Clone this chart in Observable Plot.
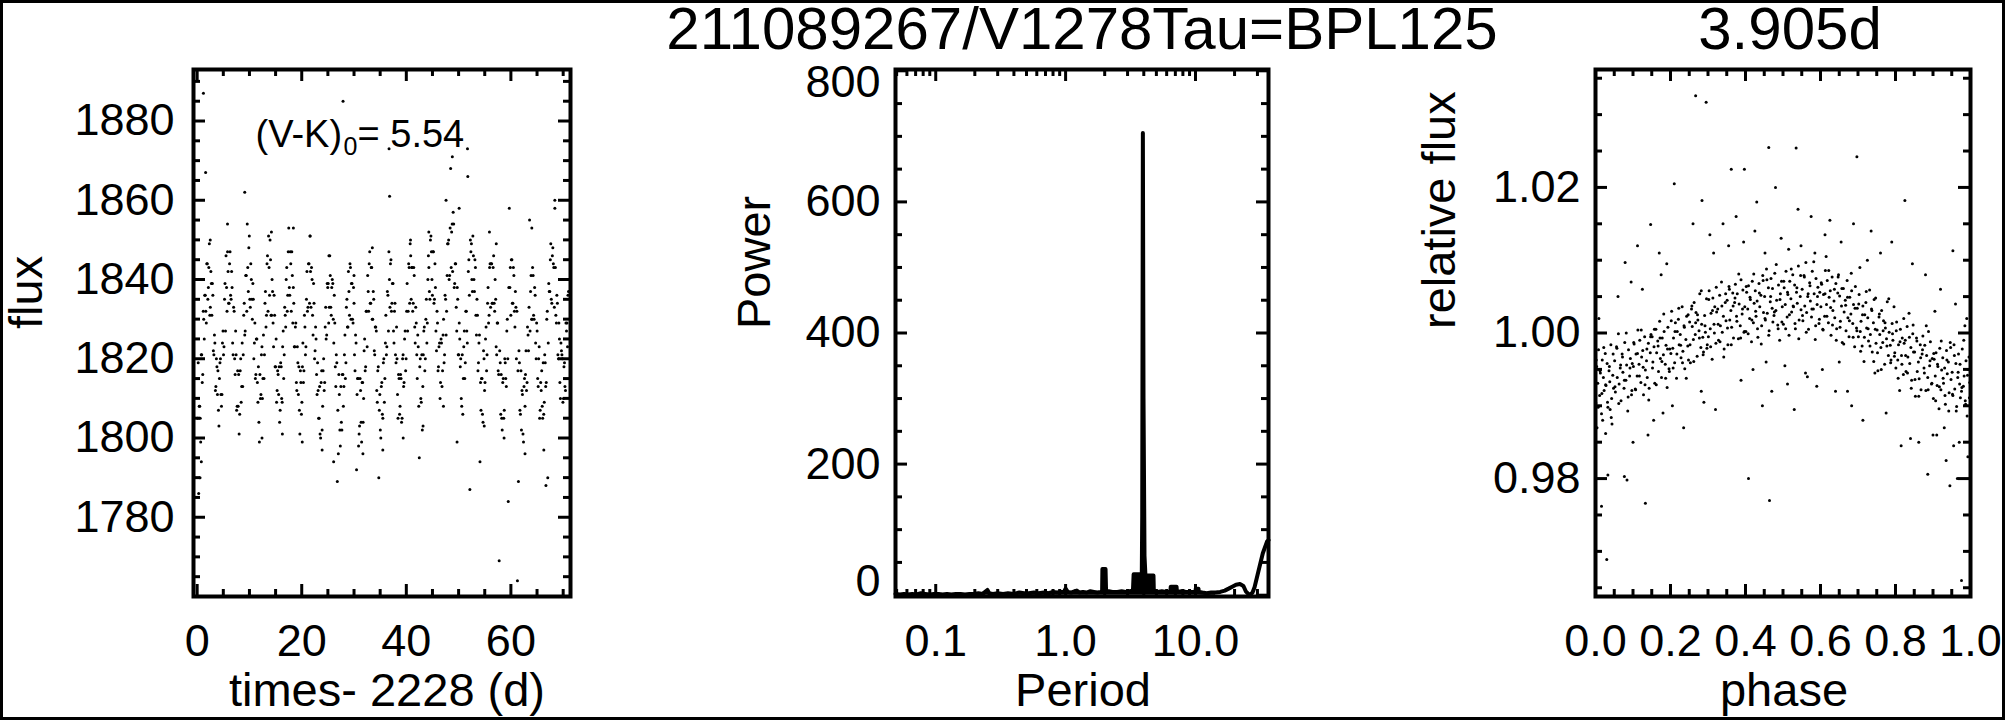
<!DOCTYPE html>
<html><head><meta charset="utf-8">
<script src="https://cdn.jsdelivr.net/npm/d3@7"></script>
<script src="https://cdn.jsdelivr.net/npm/@observablehq/plot@0.6"></script>
<style>
html,body{margin:0;padding:0;background:#fff;}
#wrap{position:relative;width:2005px;height:720px;overflow:hidden;background:#fff;font-family:"Liberation Sans",Arial,Helvetica,sans-serif;color:#000;}
.panel{position:absolute;top:0;height:720px;}
.title{position:absolute;top:7px;font-size:60px;line-height:44px;height:44px;white-space:nowrap;transform:translateX(-50%);z-index:5;}
#border{position:absolute;left:0;top:0;width:2005px;height:720px;box-sizing:border-box;border:3px solid #000;pointer-events:none;z-index:6;}
</style></head><body>
<div id="wrap">
 <div id="p1" class="panel" style="left:0;width:660px"></div>
 <div id="p2" class="panel" style="left:660px;width:670px"></div>
 <div id="p3" class="panel" style="left:1330px;width:675px"></div>
 <div id="t1" class="title" style="left:1082px"></div>
 <div id="t2" class="title" style="left:1790px"></div>
 <div id="border"></div>
</div>
<script>
// ---------- text ----------
const mainTitle = "211089267/V1278Tau=BPL125";
const periodTitle = "3.905d";
const annotA = "(V-K)", annotSub = "0", annotB = "= 5.54";
const lcXLabel = "times- 2228 (d)", lcYLabel = "flux";
const pgXLabel = "Period", pgYLabel = "Power";
const phXLabel = "phase", phYLabel = "relative flux";

// ---------- light curve (time, flux) ----------
const lcTime = [
0.10,0.29,0.49,0.68,0.87,1.07,1.26,1.45,1.65,1.84,2.04,2.23,2.42,2.62,2.81,3.00,3.20,3.39,3.58,3.78,
3.97,4.16,4.36,4.55,4.74,4.94,5.13,5.32,5.52,5.71,5.91,6.10,6.29,6.49,6.68,6.87,7.07,7.26,7.45,7.65,
7.84,8.03,8.23,8.42,8.61,8.81,9.00,9.19,9.39,9.58,9.78,9.97,10.16,10.36,10.55,10.74,10.94,11.13,11.32,11.52,
11.71,11.90,12.10,12.29,12.48,12.68,12.87,13.06,13.26,13.45,13.65,13.84,14.03,14.23,14.42,14.61,14.81,15.00,15.19,15.39,
15.58,15.77,15.97,16.16,16.35,16.55,16.74,16.93,17.13,17.32,17.52,17.71,17.90,18.10,18.29,18.48,18.68,18.87,19.06,19.26,
19.45,19.64,19.84,20.03,20.22,20.42,20.61,20.80,21.00,21.19,21.39,21.58,21.77,21.97,22.16,22.35,22.55,22.74,22.93,23.13,
23.32,23.51,23.71,23.90,24.09,24.29,24.48,24.67,24.87,25.06,25.26,25.45,25.64,25.84,26.03,26.22,26.42,26.61,26.80,27.00,
27.19,27.38,27.58,27.77,27.96,28.16,28.35,28.54,28.74,28.93,29.13,29.32,29.51,29.71,29.90,30.09,30.29,30.48,30.67,30.87,
31.06,31.25,31.45,31.64,31.83,32.03,32.22,32.41,32.61,32.80,33.00,33.19,33.38,33.58,33.77,33.96,34.16,34.35,34.54,34.74,
34.93,35.12,35.32,35.51,35.70,35.90,36.09,36.28,36.48,36.67,36.87,37.06,37.25,37.45,37.64,37.83,38.03,38.22,38.41,38.61,
38.80,38.99,39.19,39.38,39.57,39.77,39.96,40.15,40.35,40.54,40.74,40.93,41.12,41.32,41.51,41.70,41.90,42.09,42.28,42.48,
42.67,42.86,43.06,43.25,43.44,43.64,43.83,44.02,44.22,44.41,44.61,44.80,44.99,45.19,45.38,45.57,45.77,45.96,46.15,46.35,
46.54,46.73,46.93,47.12,47.31,47.51,47.70,47.89,48.09,48.28,48.48,48.67,48.86,49.06,49.25,49.44,49.64,49.83,50.02,50.22,
50.41,50.60,50.80,50.99,51.18,51.38,51.57,51.76,51.96,52.15,52.35,52.54,52.73,52.93,53.12,53.31,53.51,53.70,53.89,54.09,
54.28,54.47,54.67,54.86,55.05,55.25,55.44,55.63,55.83,56.02,56.22,56.41,56.60,56.80,56.99,57.18,57.38,57.57,57.76,57.96,
58.15,58.34,58.54,58.73,58.92,59.12,59.31,59.50,59.70,59.89,60.09,60.28,60.47,60.67,60.86,61.05,61.25,61.44,61.63,61.83,
62.02,62.21,62.41,62.60,62.79,62.99,63.18,63.37,63.57,63.76,63.96,64.15,64.34,64.54,64.73,64.92,65.12,65.31,65.50,65.70,
65.89,66.08,66.28,66.47,66.66,66.86,67.05,67.24,67.44,67.63,67.83,68.02,68.21,68.41,68.60,68.79,68.99,69.18,69.37,69.57,
69.76,69.95,70.15,70.34,70.53,70.73,70.92,
0.20,0.39,0.59,0.78,0.97,1.17,1.36,1.55,1.75,1.94,2.14,2.33,2.52,2.72,2.91,3.10,3.30,3.49,3.68,3.88,
4.07,4.26,4.46,4.65,4.84,5.04,5.23,5.42,5.62,5.81,6.01,6.20,6.39,6.59,6.78,6.97,7.17,7.36,7.55,7.75,
7.94,8.13,8.33,8.52,8.71,8.91,9.10,9.29,9.49,9.68,9.88,10.07,10.26,10.46,10.65,10.84,11.04,11.23,11.42,11.62,
11.81,12.00,12.20,12.39,12.58,12.78,12.97,13.16,13.36,13.55,13.75,13.94,14.13,14.33,14.52,14.71,14.91,15.10,15.29,15.49,
15.68,15.87,16.07,16.26,16.45,16.65,16.84,17.03,17.23,17.42,17.62,17.81,18.00,18.20,18.39,18.58,18.78,18.97,19.16,19.36,
19.55,19.74,19.94,20.13,20.32,20.52,20.71,20.90,21.10,21.29,21.49,21.68,21.87,22.07,22.26,22.45,22.65,22.84,23.03,23.23,
23.42,23.61,23.81,24.00,24.19,24.39,24.58,24.77,24.97,25.16,25.36,25.55,25.74,25.94,26.13,26.32,26.52,26.71,26.90,27.10,
27.29,27.48,27.68,27.87,28.06,28.26,28.45,28.64,28.84,29.03,29.23,29.42,29.61,29.81,30.00,30.19,30.39,30.58,30.77,30.97,
31.16,31.35,31.55,31.74,31.93,32.13,32.32,32.51,32.71,32.90,33.10,33.29,33.48,33.68,33.87,34.06,34.26,34.45,34.64,34.84,
35.03,35.22,35.42,35.61,35.80,36.00,36.19,36.38,36.58,36.77,36.97,37.16,37.35,37.55,37.74,37.93,38.13,38.32,38.51,38.71,
38.90,39.09,39.29,39.48,39.67,39.87,40.06,40.25,40.45,40.64,40.84,41.03,41.22,41.42,41.61,41.80,42.00,42.19,42.38,42.58,
42.77,42.96,43.16,43.35,43.54,43.74,43.93,44.12,44.32,44.51,44.71,44.90,45.09,45.29,45.48,45.67,45.87,46.06,46.25,46.45,
46.64,46.83,47.03,47.22,47.41,47.61,47.80,47.99,48.19,48.38,48.58,48.77,48.96,49.16,49.35,49.54,49.74,49.93,50.12,50.32,
50.51,50.70,50.90,51.09,51.28,51.48,51.67,51.86,52.06,52.25,52.45,52.64,52.83,53.03,53.22,53.41,53.61,53.80,53.99,54.19,
54.38,54.57,54.77,54.96,55.15,55.35,55.54,55.73,55.93,56.12,56.32,56.51,56.70,56.90,57.09,57.28,57.48,57.67,57.86,58.06,
58.25,58.44,58.64,58.83,59.02,59.22,59.41,59.60,59.80,59.99,60.19,60.38,60.57,60.77,60.96,61.15,61.35,61.54,61.73,61.93,
62.12,62.31,62.51,62.70,62.89,63.09,63.28,63.47,63.67,63.86,64.06,64.25,64.44,64.64,64.83,65.02,65.22,65.41,65.60,65.80,
65.99,66.18,66.38,66.57,66.76,66.96,67.15,67.34,67.54,67.73,67.93,68.12,68.31,68.51,68.70,68.89,69.09,69.28,69.47,69.67,
69.86,70.05,70.25,70.44,70.63,70.83,71.02,
1.20,1.62,0.55,0.80,27.90,36.70,36.80,51.70,48.80,49.70,9.10,68.40,47.60,50.10,26.10,44.30,18.40,14.20,5.80,2.50,21.60,
40.80,55.90,64.00,33.50,30.00,25.20,57.20,66.70,12.40,16.30,20.10,23.90,31.70,35.50,39.40,43.20,47.10,54.90,58.70,62.70,66.30];
const lcFlux = [
1805,1786,1808,1799,1821,1816,1830,1836,1832,1844,1835,1843,1831,1842,1831,1836,1821,1824,1813,1818,
1817,1803,1819,1811,1811,1827,1823,1839,1846,1832,1842,1834,1847,1835,1838,1821,1832,1816,1821,1808,
1808,1801,1817,1809,1824,1821,1834,1827,1841,1854,1837,1851,1833,1840,1830,1835,1824,1815,1825,1814,
1818,1799,1810,1821,1810,1826,1821,1837,1831,1846,1851,1836,1845,1831,1837,1823,1831,1818,1809,1817,
1811,1804,1819,1810,1823,1815,1833,1828,1843,1836,1853,1836,1844,1847,1829,1834,1823,1829,1812,1819,
1818,1801,1814,1809,1824,1817,1828,1823,1842,1833,1844,1851,1833,1840,1826,1834,1822,1825,1811,1812,
1805,1801,1814,1802,1817,1812,1828,1825,1839,1839,1833,1841,1831,1840,1830,1836,1818,1821,1789,1796,
1811,1798,1804,1816,1808,1821,1815,1833,1828,1842,1831,1843,1839,1830,1838,1821,1826,1792,1815,1798,
1803,1812,1799,1814,1810,1825,1818,1832,1841,1832,1847,1834,1843,1830,1835,1821,1828,1812,1817,1790,
1811,1800,1814,1805,1820,1815,1831,1823,1836,1847,1833,1845,1834,1839,1824,1834,1819,1820,1805,1815,
1808,1815,1805,1821,1814,1827,1820,1839,1832,1843,1849,1835,1843,1834,1841,1824,1829,1815,1823,1795,
1820,1809,1802,1821,1828,1820,1835,1829,1846,1837,1850,1847,1836,1847,1835,1838,1822,1829,1818,1824,
1814,1824,1817,1830,1821,1835,1832,1849,1850,1841,1868,1852,1842,1854,1839,1844,1827,1835,1821,1825,
1820,1808,1806,1823,1815,1832,1827,1866,1845,1787,1847,1840,1851,1840,1845,1831,1835,1817,1824,1794,
1807,1815,1804,1820,1814,1828,1821,1838,1831,1844,1844,1834,1843,1834,1840,1823,1829,1817,1769,1819,
1816,1802,1815,1807,1819,1813,1830,1784,1858,1843,1845,1834,1843,1832,1837,1820,1764,1789,1819,1806,
1802,1811,1799,1815,1816,1812,1828,1822,1855,1837,1830,1843,1831,1838,1824,1829,1815,1820,1805,1814,
1817,1805,1806,1821,1813,1830,1790,1839,1837,1849,1834,1848,1843,1858,1831,1836,1821,1829,1814,1824,
1821,1809,1818,1813,1829,1829,1836,
1819,1808,1805,1821,1814,1832,1825,1836,1829,1844,1838,1849,1833,1839,1839,1822,1826,1812,1820,1811,
1807,1815,1820,1808,1824,1821,1835,1827,1838,1847,1834,1844,1836,1842,1824,1833,1820,1827,1807,1817,
1816,1806,1820,1813,1813,1831,1826,1841,1832,1843,1848,1835,1844,1835,1839,1820,1829,1816,1825,1809,
1804,1816,1811,1823,1815,1815,1834,1828,1844,1832,1843,1850,1831,1840,1829,1836,1818,1825,1812,1816,
1818,1807,1818,1809,1827,1821,1831,1840,1832,1847,1838,1847,1832,1841,1838,1823,1828,1814,1823,1811,
1807,1817,1806,1818,1814,1831,1821,1835,1832,1844,1834,1842,1843,1831,1839,1820,1828,1816,1819,1805,
1813,1800,1817,1808,1820,1814,1833,1826,1838,1829,1846,1833,1838,1839,1824,1829,1813,1819,1807,1816,
1802,1813,1802,1816,1813,1826,1819,1835,1828,1837,1844,1830,1839,1829,1834,1817,1824,1811,1815,1801,
1815,1804,1814,1804,1822,1817,1832,1823,1837,1844,1834,1843,1830,1837,1822,1828,1827,1809,1818,1807,
1802,1813,1806,1819,1809,1824,1821,1837,1827,1840,1844,1832,1839,1827,1832,1821,1828,1811,1816,1806,
1816,1804,1820,1813,1825,1817,1832,1827,1844,1834,1846,1843,1832,1843,1828,1833,1821,1826,1808,1818,
1810,1821,1813,1827,1817,1830,1824,1840,1843,1835,1851,1840,1847,1834,1844,1827,1832,1817,1823,1810,
1825,1813,1826,1819,1836,1826,1841,1849,1840,1853,1843,1854,1857,1838,1844,1833,1838,1821,1829,1818,
1810,1821,1815,1827,1819,1832,1824,1842,1836,1850,1849,1837,1846,1837,1843,1826,1831,1819,1826,1814,
1815,1806,1822,1812,1825,1817,1834,1829,1843,1833,1844,1834,1846,1832,1835,1821,1829,1816,1822,1806,
1805,1814,1805,1820,1815,1827,1820,1838,1838,1831,1845,1834,1841,1828,1833,1832,1817,1822,1807,1817,
1812,1801,1813,1808,1822,1814,1826,1833,1827,1841,1830,1841,1830,1836,1820,1827,1813,1823,1807,1812,
1808,1819,1809,1819,1814,1832,1824,1837,1845,1835,1846,1844,1833,1843,1829,1834,1820,1825,1810,1822,
1820,1810,1819,1812,1827,1823,1837,
1887,1867,1790,1794,1885,1873,1861,1873,1871,1799,1862,1860,1860,1858,1794,1852,1853,1852,1854,1850,1851,
1850,1852,1853,1848,1841,1846,1849,1788,1800,1801,1799,1797,1796,1797,1800,1803,1808,1803,1800,1796,1797];
const lcXTicks = [0, 20, 40, 60];
const lcXMinor = [5, 10, 15, 25, 30, 35, 45, 50, 55, 65, 70];
const lcYTicks = [1780, 1800, 1820, 1840, 1860, 1880];
const lcYMinor = [1765,1770,1775,1785,1790,1795,1805,1810,1815,1825,1830,1835,1845,1850,1855,1865,1870,1875,1885,1890];

// ---------- periodogram (period, power) ----------
const pgPeriod = [0.049,0.053,0.057,0.061,0.066,0.071,0.077,0.083,0.09,0.097,
0.105,0.113,0.122,0.132,0.143,0.155,0.168,0.182,0.197,0.213,
0.23,0.243,0.25,0.258,0.275,0.3,0.33,0.36,0.4,0.44,
0.48,0.52,0.57,0.62,0.68,0.74,0.8,0.86,0.92,0.97,
1.0,1.04,1.1,1.17,1.22,1.28,1.36,1.45,1.55,1.65,
1.76,1.86,1.91,1.92,2.03,2.05,2.15,2.3,2.5,2.7,
2.9,3.1,3.3,3.34,3.86,3.89,3.935,3.98,4.05,4.12,
4.75,4.78,5.1,5.5,6.0,6.4,6.45,7.15,7.2,7.8,
8.5,9.3,10.0,10.05,10.55,10.6,11.3,12.2,13.2,14.3,
15.5,16.8,18.0,19.2,20.5,22.0,23.4,24.4,25.5,26.5,
27.5,28.5,30.5,33.0,35.6,36.5];
const pgPower = [2,1,2,1,2,1,3,2,1,2,
2,1,2,1,2,2,1,2,2,3,
2,6,8,3,2,3,2,3,2,4,
3,3,4,3,4,3,5,4,5,5,
10,5,4,6,7,4,5,4,6,5,
4,5,5,40,40,5,6,5,5,6,
5,6,7,32,32,120,705,300,60,30,
30,6,5,6,5,5,13,13,5,6,
5,5,5,10,10,5,4,3,4,4,
5,7,10,13,16,17,14,6,2,1,
4,12,36,64,82,84];
const pgXTicks = [0.1, 1, 10];
const pgXTickText = ["0.1", "1.0", "10.0"];
const pgXMinor = [0.05,0.06,0.07,0.08,0.09,0.2,0.3,0.4,0.5,0.6,0.7,0.8,0.9,2,3,4,5,6,7,8,9,20,30];
const pgYTicks = [0, 200, 400, 600, 800];
const pgYMinor = [50,100,150,250,300,350,450,500,550,650,700,750];

// ---------- phased light curve (phase, relative flux) ----------
const phPhase = [
0.001,0.003,0.006,0.008,0.011,0.013,0.016,0.018,0.021,0.023,0.026,0.028,0.031,0.033,0.036,0.038,0.041,0.043,0.046,0.048,
0.051,0.053,0.056,0.058,0.061,0.063,0.066,0.068,0.071,0.073,0.076,0.078,0.081,0.083,0.086,0.088,0.091,0.093,0.096,0.098,
0.101,0.103,0.106,0.108,0.111,0.113,0.116,0.118,0.121,0.123,0.126,0.128,0.131,0.133,0.136,0.138,0.141,0.143,0.146,0.148,
0.151,0.153,0.156,0.158,0.161,0.163,0.166,0.168,0.171,0.173,0.176,0.178,0.181,0.183,0.186,0.188,0.191,0.193,0.196,0.198,
0.201,0.203,0.206,0.208,0.211,0.213,0.216,0.218,0.221,0.223,0.226,0.228,0.231,0.233,0.236,0.238,0.241,0.243,0.246,0.248,
0.251,0.253,0.256,0.258,0.261,0.263,0.266,0.268,0.271,0.273,0.276,0.278,0.281,0.283,0.286,0.288,0.291,0.293,0.296,0.298,
0.301,0.303,0.306,0.308,0.311,0.313,0.316,0.318,0.321,0.323,0.326,0.328,0.331,0.333,0.336,0.338,0.341,0.343,0.346,0.348,
0.351,0.353,0.356,0.358,0.361,0.363,0.366,0.368,0.371,0.373,0.376,0.378,0.381,0.383,0.386,0.388,0.391,0.393,0.396,0.398,
0.401,0.403,0.406,0.408,0.411,0.413,0.416,0.418,0.421,0.423,0.426,0.428,0.431,0.433,0.436,0.438,0.441,0.443,0.446,0.448,
0.451,0.453,0.456,0.458,0.461,0.463,0.466,0.468,0.471,0.473,0.476,0.478,0.481,0.483,0.486,0.488,0.491,0.493,0.496,0.498,
0.501,0.503,0.506,0.508,0.511,0.513,0.516,0.518,0.521,0.523,0.526,0.528,0.531,0.533,0.536,0.538,0.541,0.543,0.546,0.548,
0.551,0.553,0.556,0.558,0.561,0.563,0.566,0.568,0.571,0.573,0.576,0.578,0.581,0.583,0.586,0.588,0.591,0.593,0.596,0.598,
0.601,0.603,0.606,0.608,0.611,0.613,0.616,0.618,0.621,0.623,0.626,0.628,0.631,0.633,0.636,0.638,0.641,0.643,0.646,0.648,
0.651,0.653,0.656,0.658,0.661,0.663,0.666,0.668,0.671,0.673,0.676,0.678,0.681,0.683,0.686,0.688,0.691,0.693,0.696,0.698,
0.701,0.703,0.706,0.708,0.711,0.713,0.716,0.718,0.721,0.723,0.726,0.728,0.731,0.733,0.736,0.738,0.741,0.743,0.746,0.748,
0.751,0.753,0.756,0.758,0.761,0.763,0.766,0.768,0.771,0.773,0.776,0.778,0.781,0.783,0.786,0.788,0.791,0.793,0.796,0.798,
0.801,0.803,0.806,0.808,0.811,0.813,0.816,0.818,0.821,0.823,0.826,0.828,0.831,0.833,0.836,0.838,0.841,0.843,0.846,0.848,
0.851,0.853,0.856,0.858,0.861,0.863,0.866,0.868,0.871,0.873,0.876,0.878,0.881,0.883,0.886,0.888,0.891,0.893,0.896,0.898,
0.901,0.903,0.906,0.908,0.911,0.913,0.916,0.918,0.921,0.923,0.926,0.928,0.931,0.933,0.936,0.938,0.941,0.943,0.946,0.948,
0.951,0.953,0.956,0.958,0.961,0.963,0.966,0.968,0.971,0.973,0.976,0.978,0.981,0.983,0.986,0.988,0.991,0.993,0.996,0.998,
0.002,0.007,0.012,0.017,0.022,0.027,0.032,0.037,0.042,0.047,
0.052,0.057,0.062,0.067,0.072,0.077,0.082,0.087,0.092,0.097,
0.102,0.107,0.112,0.117,0.122,0.127,0.132,0.137,0.142,0.147,
0.152,0.157,0.162,0.167,0.172,0.177,0.182,0.187,0.192,0.197,
0.202,0.207,0.212,0.217,0.222,0.227,0.232,0.237,0.242,0.247,
0.252,0.257,0.262,0.267,0.272,0.277,0.282,0.287,0.292,0.297,
0.302,0.307,0.312,0.317,0.322,0.327,0.332,0.337,0.342,0.347,
0.352,0.357,0.362,0.367,0.372,0.377,0.382,0.387,0.392,0.397,
0.402,0.407,0.412,0.417,0.422,0.427,0.432,0.437,0.442,0.447,
0.452,0.457,0.462,0.467,0.472,0.477,0.482,0.487,0.492,0.497,
0.502,0.507,0.512,0.517,0.522,0.527,0.532,0.537,0.542,0.547,
0.552,0.557,0.562,0.567,0.572,0.577,0.582,0.587,0.592,0.597,
0.602,0.607,0.612,0.617,0.622,0.627,0.632,0.637,0.642,0.647,
0.652,0.657,0.662,0.667,0.672,0.677,0.682,0.687,0.692,0.697,
0.702,0.707,0.712,0.717,0.722,0.727,0.732,0.737,0.742,0.747,
0.752,0.757,0.762,0.767,0.772,0.777,0.782,0.787,0.792,0.797,
0.802,0.807,0.812,0.817,0.822,0.827,0.832,0.837,0.842,0.847,
0.852,0.857,0.862,0.867,0.872,0.877,0.882,0.887,0.892,0.897,
0.902,0.907,0.912,0.917,0.922,0.927,0.932,0.937,0.942,0.947,
0.952,0.957,0.962,0.967,0.972,0.977,0.982,0.987,0.992,0.997,
0.030,0.016,0.033,0.009,0.077,0.084,0.079,0.133,0.147,0.112,0.155,0.170,0.210,0.235,0.267,0.295,0.282,0.260,0.289,0.284,
0.305,0.320,0.340,0.362,0.375,0.388,0.397,0.408,0.445,0.430,0.462,0.464,0.480,0.470,0.535,0.512,0.530,0.540,0.590,0.575,
0.560,0.612,0.640,0.625,0.697,0.688,0.683,0.672,0.713,0.735,0.745,0.760,0.775,0.790,0.825,0.815,0.840,0.845,0.862,0.880,
0.886,0.935,0.945,0.953,0.976,0.985,0.993,0.965,
0.420,0.455,0.505,0.565,0.605,0.650,0.315,0.355,0.395,0.425,0.452,0.495,0.515,0.548,0.585,0.615,0.655,0.705,0.725,
0.060,0.095,0.125,0.175,0.190,0.100,0.140,0.180,0.205,0.905,0.920,0.960,0.990,0.910,0.930,0.970,0.955,0.900,
0.004,0.019,0.027,0.044,0.039];
const phRel = [
0.9904,0.9954,0.9931,0.9977,0.9914,0.9945,0.9889,0.9963,0.9939,0.9921,0.9972,0.9928,0.9958,0.9898,0.9948,0.9933,0.9984,0.9910,0.9942,0.9924,
0.9962,0.9919,0.9981,0.9939,0.9999,0.9930,0.9952,0.9907,0.9971,0.9946,0.9924,0.9987,0.9935,0.9956,0.9893,0.9977,0.9941,0.9965,0.9915,0.9958,
0.9954,0.9985,0.9923,0.9971,0.9941,1.0004,0.9957,0.9990,0.9932,0.9967,0.9976,0.9915,0.9995,0.9949,0.9962,0.9939,0.9986,0.9924,0.9973,0.9998,
0.9995,0.9960,0.9981,0.9931,1.0005,0.9973,0.9989,0.9947,1.0016,0.9965,0.9939,0.9993,0.9970,1.0002,0.9957,0.9983,0.9925,1.0008,0.9951,0.9978,
0.9972,1.0030,0.9979,0.9993,0.9959,1.0014,0.9938,1.0002,1.0019,0.9984,0.9998,0.9966,1.0036,0.9975,1.0010,0.9951,0.9991,1.0023,0.9982,0.9963,
1.0015,0.9959,1.0033,1.0009,0.9991,1.0042,0.9998,1.0028,0.9968,1.0018,1.0003,1.0054,0.9980,1.0012,0.9994,0.9974,1.0024,1.0001,1.0047,0.9984,
0.9995,1.0058,1.0006,1.0027,0.9964,1.0048,1.0012,1.0036,0.9986,1.0029,1.0033,0.9990,1.0052,1.0010,1.0070,1.0001,1.0023,0.9978,1.0042,1.0017,
1.0045,0.9984,1.0064,1.0018,1.0031,1.0008,1.0055,0.9993,1.0042,1.0067,1.0023,1.0054,0.9992,1.0040,1.0010,1.0073,1.0026,1.0059,1.0001,1.0036,
1.0002,1.0056,1.0033,1.0065,1.0020,1.0046,0.9988,1.0071,1.0014,1.0041,1.0058,1.0023,1.0044,0.9994,1.0068,1.0036,1.0052,1.0010,1.0079,1.0028,
1.0050,1.0018,1.0088,1.0027,1.0062,1.0003,1.0043,1.0075,1.0034,1.0015,1.0024,1.0082,1.0031,1.0045,1.0011,1.0066,0.9990,1.0054,1.0071,1.0036,
1.0012,1.0062,1.0039,1.0085,1.0022,1.0053,0.9997,1.0071,1.0047,1.0029,1.0080,1.0036,1.0066,1.0006,1.0056,1.0041,1.0092,1.0018,1.0050,1.0032,
1.0060,1.0017,1.0079,1.0037,1.0097,1.0028,1.0050,1.0005,1.0069,1.0044,1.0022,1.0085,1.0033,1.0054,0.9991,1.0075,1.0039,1.0063,1.0013,1.0056,
1.0036,1.0067,1.0005,1.0053,1.0023,1.0086,1.0039,1.0072,1.0014,1.0049,1.0058,0.9997,1.0077,1.0031,1.0044,1.0021,1.0068,1.0006,1.0055,1.0080,
1.0051,1.0016,1.0037,0.9987,1.0061,1.0029,1.0045,1.0003,1.0072,1.0021,0.9995,1.0049,1.0026,1.0058,1.0013,1.0039,0.9981,1.0064,1.0007,1.0034,
0.9995,1.0053,1.0002,1.0016,0.9982,1.0037,0.9961,1.0025,1.0042,1.0007,1.0021,0.9989,1.0059,0.9998,1.0033,0.9974,1.0014,1.0046,1.0005,0.9986,
1.0004,0.9948,1.0022,0.9998,0.9980,1.0031,0.9987,1.0017,0.9957,1.0007,0.9992,1.0043,0.9969,1.0001,0.9983,0.9963,1.0013,0.9990,1.0036,0.9973,
0.9952,1.0015,0.9963,0.9984,0.9921,1.0005,0.9969,0.9993,0.9943,0.9986,0.9990,0.9947,1.0009,0.9967,1.0027,0.9958,0.9980,0.9935,0.9999,0.9974,
0.9974,0.9913,0.9993,0.9947,0.9960,0.9937,0.9984,0.9922,0.9971,0.9996,0.9952,0.9983,0.9921,0.9969,0.9939,1.0002,0.9955,0.9988,0.9930,0.9965,
0.9910,0.9964,0.9941,0.9973,0.9928,0.9954,0.9896,0.9979,0.9922,0.9949,0.9966,0.9931,0.9952,0.9902,0.9976,0.9944,0.9960,0.9918,0.9987,0.9936,
0.9946,0.9914,0.9984,0.9923,0.9958,0.9899,0.9939,0.9971,0.9930,0.9911,0.9920,0.9978,0.9927,0.9941,0.9907,0.9962,0.9886,0.9950,0.9967,0.9932,
0.9963,0.9898,0.9948,0.9917,0.9980,0.9929,0.9905,0.9954,0.9884,0.9971,
0.9926,0.9979,0.9903,0.9956,0.9967,0.9935,1.0000,0.9912,0.9952,0.9921,
0.9987,0.9922,0.9972,0.9941,1.0004,0.9953,0.9929,0.9978,0.9908,0.9995,
0.9952,1.0005,0.9929,0.9982,0.9993,0.9961,1.0026,0.9938,0.9978,0.9947,
1.0017,0.9952,1.0002,0.9971,1.0034,0.9983,0.9959,1.0008,0.9938,1.0025,
0.9984,1.0037,0.9961,1.0014,1.0025,0.9993,1.0058,0.9970,1.0010,0.9979,
1.0046,0.9981,1.0031,1.0000,1.0063,1.0012,0.9988,1.0037,0.9967,1.0054,
1.0007,1.0060,0.9984,1.0037,1.0048,1.0016,1.0081,0.9993,1.0033,1.0002,
1.0064,0.9999,1.0049,1.0018,1.0081,1.0030,1.0006,1.0055,0.9985,1.0072,
1.0020,1.0073,0.9997,1.0050,1.0061,1.0029,1.0094,1.0006,1.0046,1.0015,
1.0071,1.0006,1.0056,1.0025,1.0088,1.0037,1.0013,1.0062,0.9992,1.0079,
1.0024,1.0077,1.0001,1.0054,1.0065,1.0033,1.0098,1.0010,1.0050,1.0019,
1.0069,1.0004,1.0054,1.0023,1.0086,1.0035,1.0011,1.0060,0.9990,1.0077,
1.0008,1.0061,0.9985,1.0038,1.0049,1.0017,1.0082,0.9994,1.0034,1.0003,
1.0040,0.9975,1.0025,0.9994,1.0057,1.0006,0.9982,1.0031,0.9961,1.0048,
0.9973,1.0026,0.9950,1.0003,1.0014,0.9982,1.0047,0.9959,0.9999,0.9968,
1.0003,0.9938,0.9988,0.9957,1.0020,0.9969,0.9945,0.9994,0.9924,1.0011,
0.9936,0.9989,0.9913,0.9966,0.9977,0.9945,1.0010,0.9922,0.9962,0.9931,
0.9972,0.9907,0.9957,0.9926,0.9989,0.9938,0.9914,0.9963,0.9893,0.9980,
0.9916,0.9969,0.9893,0.9946,0.9957,0.9925,0.9990,0.9902,0.9942,0.9911,
0.9689,0.9762,0.9805,1.0020,0.9803,0.9798,1.0097,0.9766,1.0149,1.0120,0.9880,1.0110,1.0205,0.9870,1.0326,1.0317,0.9920,1.0150,0.9905,1.0182,
1.0135,0.9895,1.0150,1.0225,1.0160,0.9935,1.0225,0.9800,0.9900,1.0180,1.0255,0.9770,1.0200,0.9920,1.0254,0.9930,0.9895,1.0170,0.9927,1.0160,
0.9945,1.0135,0.9920,1.0155,1.0242,1.0150,0.9900,0.9920,0.9880,1.0140,0.9945,1.0110,0.9890,1.0125,1.0182,0.9845,0.9855,1.0095,0.9850,1.0080,
0.9806,0.9825,0.9790,1.0113,0.9660,1.0010,0.9830,0.9800,
0.9950,0.9960,0.9955,0.9940,0.9950,0.9960,1.0110,1.0120,1.0125,1.0140,1.0110,1.0130,1.0115,1.0120,1.0110,1.0105,1.0125,1.0090,1.0100,
1.0050,1.0070,1.0060,1.0080,1.0095,0.9850,0.9860,0.9890,0.9900,1.0030,1.0060,1.0040,1.0020,0.9860,0.9870,0.9850,0.9845,0.9860,
0.9870,0.9880,0.9862,0.9875,0.9895];
const phXTicks = [0, 0.2, 0.4, 0.6, 0.8, 1.0];
const phXMinor = [0.05,0.1,0.15,0.25,0.3,0.35,0.45,0.5,0.55,0.65,0.7,0.75,0.85,0.9,0.95];
const phYTicks = [0.98, 1.00, 1.02];
const phYMinor = [0.965,0.97,0.975,0.985,0.99,0.995,1.005,1.01,1.015,1.025,1.03,1.035];

// ---------- layout / style ----------
const FONT = '"Liberation Sans", Arial, Helvetica, sans-serif';
const H = 720, MT = 69, MB = 124, FH = H - MT - MB;
const MAJ = 12, MIN = 7, TW = 3;
const TICKFS = 45, LABFS = 47, DOTR = 1.5;

function frameTicks(xMaj, xMin, yMaj, yMin, FW) {
  const o = {stroke: "black", strokeWidth: TW};
  return [
    Plot.tickX(xMaj, {...o, x: d => d, insetTop: FH - MAJ}),
    Plot.tickX(xMaj, {...o, x: d => d, insetBottom: FH - MAJ}),
    Plot.tickX(xMin, {...o, x: d => d, insetTop: FH - MIN}),
    Plot.tickX(xMin, {...o, x: d => d, insetBottom: FH - MIN}),
    Plot.tickY(yMaj, {...o, y: d => d, insetRight: FW - MAJ}),
    Plot.tickY(yMaj, {...o, y: d => d, insetLeft: FW - MAJ}),
    Plot.tickY(yMin, {...o, y: d => d, insetRight: FW - MIN}),
    Plot.tickY(yMin, {...o, y: d => d, insetLeft: FW - MIN}),
    Plot.frame({stroke: "black", strokeWidth: 4})
  ];
}
function xLabels(ticks, fmt) {
  return Plot.text(ticks, {x: d => d, frameAnchor: "bottom", dy: 59, lineAnchor: "bottom", text: fmt, fontSize: TICKFS});
}
function yLabels(ticks, fmt, dx, dy = 0) {
  return Plot.text(ticks, {y: d => d, frameAnchor: "left", dx: -dx, dy, textAnchor: "end", lineAnchor: "middle", text: fmt, fontSize: TICKFS});
}
function xTitle(label, dx) {
  return Plot.text([label], {frameAnchor: "bottom", dx, dy: 109, lineAnchor: "bottom", fontSize: LABFS});
}
function yTitle(label, dx) {
  return Plot.text([label], {frameAnchor: "left", dx, dy: -4, rotate: -90, lineAnchor: "middle", fontSize: LABFS});
}
function makePlot(width, ml, mr, x, y, marks) {
  return Plot.plot({
    width, height: H, marginLeft: ml, marginRight: mr, marginTop: MT, marginBottom: MB,
    x: {...x, axis: null}, y: {...y, axis: null},
    style: {fontFamily: FONT, fontSize: TICKFS + "px", background: "white", overflow: "visible", color: "black"},
    marks
  });
}

document.getElementById("t1").textContent = mainTitle;
document.getElementById("t2").textContent = periodTitle;

// Panel 1: light curve
const lc = lcTime.map((t, i) => ({t, f: lcFlux[i]}));
const W1 = 660, ML1 = 193, MR1 = 90;
document.getElementById("p1").append(makePlot(W1, ML1, MR1,
  {domain: [-0.7, 71.4]}, {domain: [1760, 1893]}, [
    Plot.dot(lc, {x: "t", y: "f", r: DOTR, fill: "black"}),
    ...frameTicks(lcXTicks, lcXMinor, lcYTicks, lcYMinor, W1 - ML1 - MR1),
    Plot.text([annotA], {frameAnchor: "top-left", dx: 62, dy: 77, lineAnchor: "bottom", textAnchor: "start", fontSize: 38}),
    Plot.text([annotSub], {frameAnchor: "top-left", dx: 150, dy: 85, lineAnchor: "bottom", textAnchor: "start", fontSize: 25}),
    Plot.text([annotB], {frameAnchor: "top-left", dx: 164, dy: 77, lineAnchor: "bottom", textAnchor: "start", fontSize: 38}),
    xLabels(lcXTicks, d => String(d)),
    yLabels(lcYTicks, d => String(d), 19),
    xTitle(lcXLabel, 5),
    yTitle(lcYLabel, -167)
  ]));

// Panel 2: periodogram
const pg = pgPeriod.map((p, i) => ({p, pw: pgPower[i]}));
const W2 = 670, ML2 = 235, MR2 = 62;
document.getElementById("p2").append(makePlot(W2, ML2, MR2,
  {type: "log", domain: [0.049, 36.5]}, {domain: [-2, 802]}, [
    Plot.areaY(pg.filter(d => d.p < 15), {x: "p", y: "pw", fill: "black"}),
    Plot.line(pg, {x: "p", y: "pw", stroke: "black", strokeWidth: 4}),
    ...frameTicks(pgXTicks, pgXMinor, pgYTicks, pgYMinor, W2 - ML2 - MR2),
    xLabels(pgXTicks, (d, i) => pgXTickText[i]),
    yLabels(pgYTicks.filter(d => d > 0 && d < 800), d => String(d), 15),
    yLabels(pgYTicks.filter(d => d === 800), d => String(d), 15, 12),
    yLabels(pgYTicks.filter(d => d === 0), d => String(d), 15, -14),
    xTitle(pgXLabel, 1),
    yTitle(pgYLabel, -141)
  ]));

// Panel 3: phased light curve
const ph = phPhase.map((p, i) => ({p, r: phRel[i]}));
const W3 = 675, ML3 = 265, MR3 = 35;
document.getElementById("p3").append(makePlot(W3, ML3, MR3,
  {domain: [0, 1]}, {domain: [0.9638, 1.0362]}, [
    Plot.dot(ph, {x: "p", y: "r", r: DOTR, fill: "black"}),
    ...frameTicks(phXTicks, phXMinor, phYTicks, phYMinor, W3 - ML3 - MR3),
    xLabels(phXTicks, d => d.toFixed(1)),
    yLabels(phYTicks, d => d.toFixed(2), 15),
    xTitle(phXLabel, 1),
    yTitle(phYLabel, -156)
  ]));
</script>
</body></html>
